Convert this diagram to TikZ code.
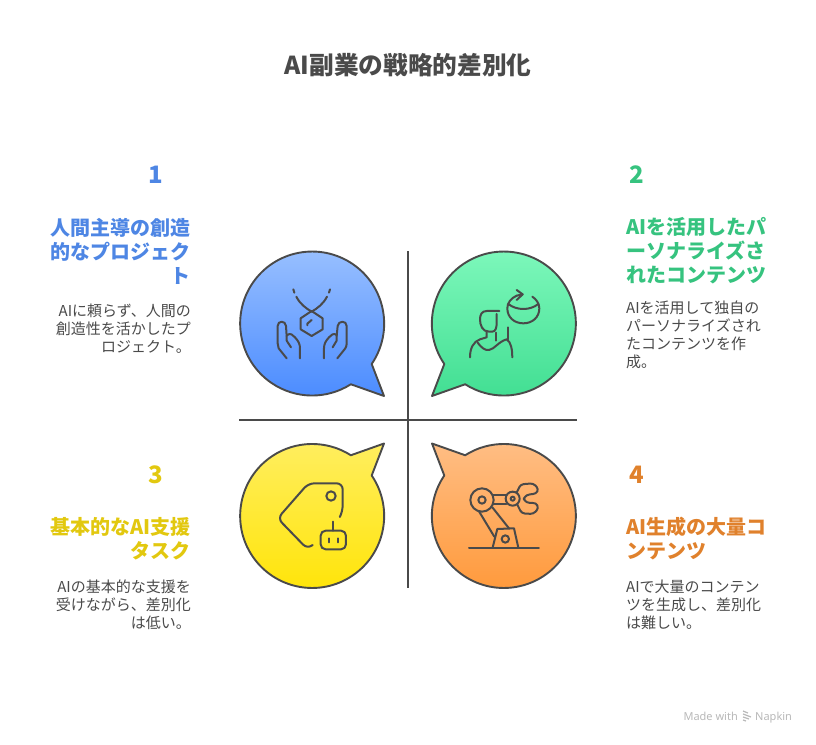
\documentclass[tikz,border=0pt]{standalone}
\usepackage{fontspec}
\setmainfont{Noto Sans CJK JP}
\newfontfamily\latinfont{Noto Sans}
\definecolor{inkgray}{HTML}{4A4A4A}
\definecolor{blueword}{HTML}{4E86E4}
\definecolor{greenword}{HTML}{36C37F}
\definecolor{yellowword}{HTML}{E2C80F}
\definecolor{orangeword}{HTML}{E0812C}
\definecolor{blueup}{HTML}{9CC2FF}
\definecolor{bluedown}{HTML}{4A8BFF}
\definecolor{greenup}{HTML}{80F9BD}
\definecolor{greendown}{HTML}{41DE92}
\definecolor{yellowup}{HTML}{FFEE60}
\definecolor{yellowdown}{HTML}{FFE405}
\definecolor{orangeup}{HTML}{FFBE85}
\definecolor{orangedown}{HTML}{FF9838}
\tikzset{
	bubble/.style={draw=inkgray, line width=1.9pt, line join=round},
	icon/.style={draw=inkgray, line width=2pt, line cap=round, line join=round},
	axis line/.style={draw=inkgray, line width=1.9pt},
	number/.style={font=\fontsize{24}{28}\selectfont\bfseries},
	heading/.style={font=\fontsize{20}{24}\selectfont\bfseries},
	body/.style={font=\fontsize{15}{18}\selectfont, text=inkgray}
}
\newcommand{\bubblepath}{(59.7,-40.5) arc (-34.2:302.5:72) -- (72,-72.5) -- cycle}
\begin{document}
\begin{tikzpicture}[x=1pt, y=-1pt, inner sep=0pt]
	\useasboundingbox (0,0) rectangle (816,744);
	\node [font=\fontsize{24.7}{28}\selectfont\bfseries, text=inkgray] (title) at (408,65) {AI副業の戦略的差別化};

	% bubbles
	\begin{scope}[shift={(312,323.5)}, y=1pt]
		\draw [bubble, top color=blueup, bottom color=bluedown] \bubblepath;
	\end{scope}
	\begin{scope}[shift={(504,323.5)}, y=1pt, xscale=-1]
		\draw [bubble, top color=greenup, bottom color=greendown] \bubblepath;
	\end{scope}
	\begin{scope}[shift={(312,516)}, y=1pt, yscale=-1]
		\draw [bubble, top color=yellowup, bottom color=yellowdown] \bubblepath;
	\end{scope}
	\begin{scope}[shift={(504,516)}, y=1pt, xscale=-1, yscale=-1]
		\draw [bubble, top color=orangeup, bottom color=orangedown] \bubblepath;
	\end{scope}

	% cross
	\coordinate (north end) at (408,251);
	\coordinate (south end) at (408,588);
	\coordinate (west end) at (239,420);
	\coordinate (east end) at (577,420);
	\draw [axis line] (north end) -- (south end);
	\draw [axis line] (west end) -- (east end);

	% hands icon
	\begin{scope}[shift={(230,240)}, x=0.3333pt, y=-0.3333pt]
		\draw [icon] (190,148) -- (193,158);
		\draw [icon] (300,148) -- (297,158);
		\draw [icon] (199,170) .. controls (210,192) and (228,205) .. (245,215);
		\draw [icon] (291,170) .. controls (280,192) and (262,205) .. (245,215);
		\draw [icon] (245,213) -- (278,235) -- (278,268) -- (245,288) -- (212,268) -- (212,235) -- cycle;
		\draw [icon] (232,256) -- (232,251) -- (245,240);
		\draw [icon] (170,355) -- (146,325) .. controls (143,320) and (143,315) .. (143,310) -- (143,258) .. controls (143,241) and (167,241) .. (168,258) -- (170,288);
		\draw [icon] (172,285) .. controls (180,278) and (190,285) .. (195,292) .. controls (205,303) and (210,312) .. (210,325) -- (210,355);
		\draw [icon] (170,288) -- (170,302) -- (183,322);
		\draw [icon] (322,355) -- (346,325) .. controls (349,320) and (350,315) .. (350,310) -- (350,258) .. controls (350,241) and (325,241) .. (323,258) -- (320,288);
		\draw [icon] (320,285) .. controls (312,278) and (302,285) .. (297,292) .. controls (287,303) and (282,312) .. (282,325) -- (282,355);
		\draw [icon] (320,288) -- (320,302) -- (308,322);
	\end{scope}

	% person and globe icon
	\begin{scope}[shift={(405,240)}, x=0.3333pt, y=-0.3333pt]
		\draw [icon] (283,213) -- (245,213) .. controls (230,213) and (225,225) .. (225,238) .. controls (225,255) and (232,275) .. (252,275) -- (262,275) .. controls (272,275) and (275,262) .. (275,250) -- (275,222);
		\draw [icon] (245,275) -- (245,292) -- (225,298) .. controls (205,305) and (195,325) .. (195,352);
		\draw [icon] (218,308) .. controls (228,322) and (240,332) .. (252,330) .. controls (268,328) and (280,305) .. (305,298) .. controls (318,305) and (322,330) .. (322,352);
		\draw [icon] (272,278) -- (272,302);
		\draw [icon] (308,262) -- (308,298);
		\draw [icon] (335,167) .. controls (318,175) and (307,188) .. (307,205) .. controls (307,232) and (328,250) .. (355,250) .. controls (382,250) and (403,232) .. (403,205) .. controls (403,190) and (393,177) .. (382,170);
		\draw [icon] (310,192) .. controls (335,212) and (375,212) .. (400,192);
		\draw [icon] (335,150) -- (353,163) -- (335,180);
		\draw [icon] (353,163) -- (335,167);
	\end{scope}

	% tag and robot icon
	\begin{scope}[shift={(230,420)}, x=0.3333pt, y=-0.3333pt]
		\draw [icon, rounded corners=6pt] (248,375) -- (232,387) -- (143,295) -- (235,190) -- (338,190) -- (338,275) -- (330,290);
		\draw [icon] (303,228) circle (14);
		\draw [icon, rounded corners=5pt] (272,332) rectangle (348,388);
		\coordinate (antenna top) at (310,305);
		\coordinate (antenna foot) at (310,332);
		\draw [icon] (antenna top) -- (antenna foot);
		\draw [icon] (297,355) -- (297,367);
		\draw [icon] (323,355) -- (323,367);
	\end{scope}

	% robot arm icon
	\begin{scope}[shift={(405,420)}, x=0.3333pt, y=-0.3333pt]
		\draw [icon] (231,240) circle (35);
		\draw [icon] (231,240) circle (11);
		\draw [icon] (323,236) circle (21);
		\draw [icon] (323,236) circle (6);
		\draw [icon] (263,225) -- (304,225);
		\draw [icon] (263,252) -- (304,252);
		\draw [icon] (222,274) -- (268,350);
		\draw [icon] (262,262) -- (312,325);
		\draw [icon] (263,383) -- (277,327) -- (327,325) -- (340,383);
		\draw [icon] (301,357) circle (11);
		\draw [icon] (192,383) -- (402,383);
		\draw [icon, rounded corners=3pt] (335,218) -- (347,193) -- (385,190) -- (401,207) -- (393,222) -- (375,222) -- (357,230) -- (357,243) -- (375,250) -- (393,248) -- (401,265) -- (385,282) -- (350,280) -- (337,254);
	\end{scope}

	% text, left column
	\node [number, text=blueword] (num one) at (156,175) {1};
	\node [heading, text=blueword, align=right, anchor=east] (head one) at (191,251) {人間主導の創造\\的なプロジェク\\ト};
	\node [body, align=right, anchor=east] (text one) at (191,329) {AIに頼らず、人間の\\創造性を活かしたプ\\ロジェクト。};
	\node [number, text=yellowword] (num three) at (156,475) {3};
	\node [heading, text=yellowword, align=right, anchor=east] (head three) at (191,539) {基本的なAI支援\\タスク};
	\node [body, align=right, anchor=east] (text three) at (191,605) {AIの基本的な支援を\\受けながら、差別化\\は低い。};

	% text, right column
	\node [number, text=greenword] (num two) at (637,175) {2};
	\node [heading, text=greenword, align=left, anchor=west] (head two) at (626,251) {AIを活用したパ\\ーソナライズさ\\れたコンテンツ};
	\node [body, align=left, anchor=west] (text two) at (626,335) {AIを活用して独自の\\パーソナライズされ\\たコンテンツを作\\成。};
	\node [number, text=orangeword] (num four) at (637,475) {4};
	\node [heading, text=orangeword, align=left, anchor=west] (head four) at (626,539) {AI生成の大量コ\\ンテンツ};
	\node [body, align=left, anchor=west] (text four) at (626,605) {AIで大量のコンテン\\ツを生成し、差別化\\は難しい。};

	% footer
	\node [font=\fontsize{11}{13}\latinfont, text=black!28, anchor=base east] (made with) at (738,720) {Made with};
	\node [font=\fontsize{11}{13}\latinfont, text=black!28, anchor=base west] (napkin) at (755,720) {Napkin};
	\draw [black!28, line width=1.2pt] (743,711) -- (748,713) (743,714) -- (751,717) (743,717) -- (749,719) (743,720) -- (746,721);
\end{tikzpicture}
\end{document}
